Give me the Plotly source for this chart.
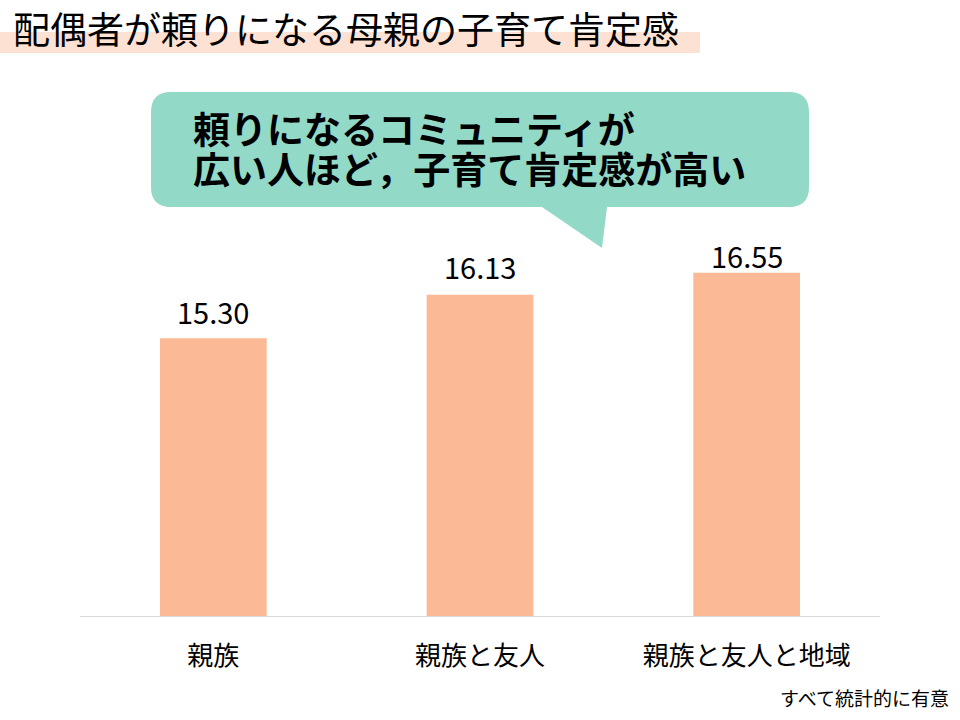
import plotly.graph_objects as go

categories = ["親族", "親族と友人", "親族と友人と地域"]
values = [15.30, 16.13, 16.55]
value_labels = ["15.30", "16.13", "16.55"]

title_text = "配偶者が頼りになる母親の子育て肯定感"
bubble_line1 = "頼りになるコミュニティが"
bubble_line2 = "広い人ほど，子育て肯定感が高い"
footnote = "すべて統計的に有意"

# label offsets (px) above bar tops (style only)
label_yshift = [4, 6, -5]

W, H = 960, 720
ML, MR, MT, MB = 80, 80, 92, 104
PW, PH = W - ML - MR, H - MT - MB

FONT = "Noto Sans CJK JP"
BAR_COLOR = "#FBB995"
BUBBLE_COLOR = "#93D9C7"
HL_COLOR = "#FDE1D2"


def px(x):
    return (x - ML) / PW


def py(y):
    return (H - MB - y) / PH


def P(x, y):
    return f"{px(x):.5f},{py(y):.5f}"


fig = go.Figure()
fig.add_trace(go.Bar(
    x=categories, y=values, marker=dict(color=BAR_COLOR, line=dict(width=0)),
    width=0.4, hoverinfo="skip",
))

for c, v, t, s in zip(categories, values, value_labels, label_yshift):
    fig.add_annotation(x=c, y=v, text=t, showarrow=False, yanchor="bottom",
                       yshift=s, font=dict(family=FONT, size=29, color="#000000"))

shapes = []
shapes.append(dict(type="rect", xref="paper", yref="paper",
                   x0=px(0), x1=px(700), y0=py(53), y1=py(32),
                   fillcolor=HL_COLOR, line=dict(width=0), layer="below"))

bx0, bx1, by0, by1, r = 151, 809, 92, 207, 20
path = (
    f"M {P(bx0 + r, by0)} L {P(bx1 - r, by0)} Q {P(bx1, by0)} {P(bx1, by0 + r)} "
    f"L {P(bx1, by1 - r)} Q {P(bx1, by1)} {P(bx1 - r, by1)} "
    f"L {P(607, by1)} L {P(602, 248)} L {P(542, by1)} "
    f"L {P(bx0 + r, by1)} Q {P(bx0, by1)} {P(bx0, by1 - r)} "
    f"L {P(bx0, by0 + r)} Q {P(bx0, by0)} {P(bx0 + r, by0)} Z"
)
shapes.append(dict(type="path", xref="paper", yref="paper", path=path,
                   fillcolor=BUBBLE_COLOR, line=dict(width=0), layer="below"))

annotations = [
    dict(xref="paper", yref="paper", x=px(11), y=py(28), text=title_text,
         showarrow=False, xanchor="left", yanchor="middle",
         font=dict(family=FONT, size=37, color="#000000")),
    dict(xref="paper", yref="paper", x=px(191), y=py(128), text=f"<b>{bubble_line1}</b>",
         showarrow=False, xanchor="left", yanchor="middle",
         font=dict(family=FONT, size=37, color="#000000")),
    dict(xref="paper", yref="paper", x=px(191), y=py(168), text=f"<b>{bubble_line2}</b>",
         showarrow=False, xanchor="left", yanchor="middle",
         font=dict(family=FONT, size=37, color="#000000")),
    dict(xref="paper", yref="paper", x=px(951), y=py(697), text=footnote,
         showarrow=False, xanchor="right", yanchor="middle",
         font=dict(family=FONT, size=19, color="#000000")),
]

fig.update_layout(
    width=W, height=H,
    margin=dict(l=ML, r=MR, t=MT, b=MB),
    paper_bgcolor="white", plot_bgcolor="white",
    showlegend=False,
    shapes=shapes,
    bargap=0.6,
    font=dict(family=FONT),
    xaxis=dict(showline=True, linecolor="#D9D9D9", linewidth=1, ticks="",
               showgrid=False, zeroline=False,
               tickfont=dict(family=FONT, size=26, color="#000000"),
               ticklabelstandoff=17, fixedrange=True),
    yaxis=dict(range=[10, 20], visible=False, showgrid=False, zeroline=False,
               fixedrange=True),
)
for a in annotations:
    fig.add_annotation(**a)

fig.write_html("out.html", config={"displayModeBar": False},
               post_script="document.body.style.margin='0';document.body.style.overflow='hidden';")
